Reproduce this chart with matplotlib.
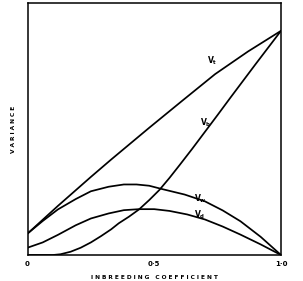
import matplotlib.pyplot as plt

# Curve points (x = inbreeding coefficient, y = variance, arbitrary units)
vt_x = [0.0, 0.12, 0.25, 0.33, 0.48, 0.61, 0.74, 0.87, 1.0]
vt_y = [0.085, 0.195, 0.310, 0.379, 0.505, 0.612, 0.718, 0.808, 0.890]

vw_x = [0.0, 0.06, 0.12, 0.19, 0.25, 0.32, 0.38, 0.43, 0.48, 0.53, 0.62, 0.70, 0.77, 0.84, 0.92, 1.0]
vw_y = [0.085, 0.135, 0.181, 0.222, 0.253, 0.271, 0.280, 0.280, 0.275, 0.262, 0.240, 0.213, 0.177, 0.134, 0.072, 0.0]

vd_x = [0.0, 0.06, 0.12, 0.19, 0.25, 0.32, 0.38, 0.44, 0.50, 0.56, 0.63, 0.70, 0.77, 0.84, 0.92, 1.0]
vd_y = [0.029, 0.050, 0.080, 0.118, 0.145, 0.165, 0.178, 0.182, 0.182, 0.175, 0.161, 0.141, 0.113, 0.081, 0.042, 0.0]

vb_x = [0.0, 0.10, 0.13, 0.17, 0.21, 0.25, 0.29, 0.33, 0.36, 0.40, 0.44, 0.48, 0.52, 0.56, 0.60, 0.65, 0.70, 0.75, 0.80, 0.85, 0.90, 0.95, 1.0]
vb_y = [0.0, 0.0, 0.003, 0.013, 0.029, 0.050, 0.075, 0.102, 0.126, 0.152, 0.181, 0.218, 0.258, 0.306, 0.357, 0.422, 0.489, 0.556, 0.624, 0.691, 0.758, 0.824, 0.890]

x_ticks = [0.0, 0.5, 1.0]
x_ticklabels = ["0", "0·5", "1·0"]

fig = plt.figure(figsize=(3.03, 2.81), dpi=100)
ax = fig.add_axes([0.0908, 0.0925, 0.8366, 0.8965])

for xs, ys in [(vt_x, vt_y), (vw_x, vw_y), (vd_x, vd_y), (vb_x, vb_y)]:
    ax.plot(xs, ys, color="black", lw=1.25, solid_capstyle="round", solid_joinstyle="round")

# curve labels
lab = dict(fontsize=5.5, ha="center", va="center")
ax.text(0.73, 0.77, r"$\mathbf{V_t}$", **lab)
ax.text(0.705, 0.525, r"$\mathbf{V_b}$", **lab)
ax.text(0.68, 0.222, r"$\mathbf{V_w}$", **lab)
ax.text(0.68, 0.160, r"$\mathbf{V_d}$", **lab)

ax.set_xlim(0, 1.0)
ax.set_ylim(0, 1.0)
ax.set_xticks(x_ticks)
ax.set_xticklabels(x_ticklabels, fontsize=5, fontweight="bold")
ax.set_yticks([])
ax.tick_params(axis="x", length=0, pad=4)
for s in ax.spines.values():
    s.set_linewidth(1.1)

ax.set_xlabel("I N B R E E D I N G   C O E F F I C I E N T", fontsize=4.2, fontweight="bold", labelpad=6)
ax.set_ylabel("V A R I A N C E", fontsize=4.2, fontweight="bold", labelpad=8)

fig.savefig("out.png", dpi=100)
